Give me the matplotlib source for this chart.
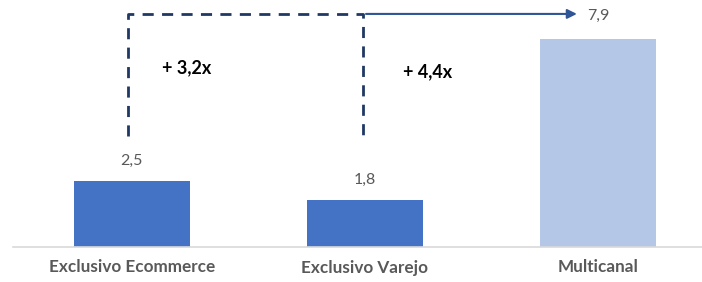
import matplotlib
matplotlib.use("Agg")
import matplotlib.pyplot as plt

categories = ["Exclusivo Ecommerce", "Exclusivo Varejo", "Multicanal"]
values = [2.5, 1.8, 7.9]
value_labels = ["2,5", "1,8", "7,9"]
multipliers = ["+ 3,2x", "+ 4,4x"]

bar_colors = ["#4472c4", "#4472c4", "#b4c7e7"]
gray = "#595959"

fig = plt.figure(figsize=(7.02, 2.82), dpi=100)
ax = fig.add_axes([13 / 702, 35 / 282, 689 / 702, 247 / 282])

x = list(range(len(categories)))
ax.bar(x, values, width=0.5, color=bar_colors, zorder=2)
ax.set_xlim(-0.51, 2.447)
ax.set_ylim(0, 9.36)

for spine in ["top", "right", "left"]:
    ax.spines[spine].set_visible(False)
ax.spines["bottom"].set_color("#d9d9d9")
ax.spines["bottom"].set_linewidth(1.2)
ax.set_yticks([])
ax.set_xticks(x)
ax.set_xticklabels(categories, fontfamily="Lato", fontweight="bold",
                   fontsize=12.3, color=gray)
ax.tick_params(axis="x", length=0, pad=9)

# valores acima das barras (o ultimo fica ao lado da seta)
for i, (v, lab) in enumerate(zip(values, value_labels)):
    dy = 0.85 if i == len(values) - 1 else 0.76
    ax.text(i, v + dy, lab, ha="center", va="center",
            fontfamily="Lato", fontsize=11.5, color=gray)

# conectores tracejados
top = values[-1] * 1.118
low = 4.2
ax.plot([x[0] - 0.015, x[0] - 0.015, x[1] - 0.007, x[1] - 0.007],
        [low, top, top, low], ls=(0, (4, 3)), color="#203864", lw=2, zorder=3)
ax.annotate("", xy=(x[2] - 0.09, top), xytext=(x[1] + 0.005, top),
            arrowprops=dict(arrowstyle="-|>", color="#2f5597", lw=1.5,
                            mutation_scale=14, shrinkA=0, shrinkB=0))

ax.text(x[0] + 0.235, 6.78, multipliers[0], ha="center", va="center",
        fontfamily="Lato", fontweight="bold", fontsize=13, color="black")
ax.text(x[1] + 0.268, 6.63, multipliers[1], ha="center", va="center",
        fontfamily="Lato", fontweight="bold", fontsize=13, color="black")

fig.savefig("out.png", dpi=100)
